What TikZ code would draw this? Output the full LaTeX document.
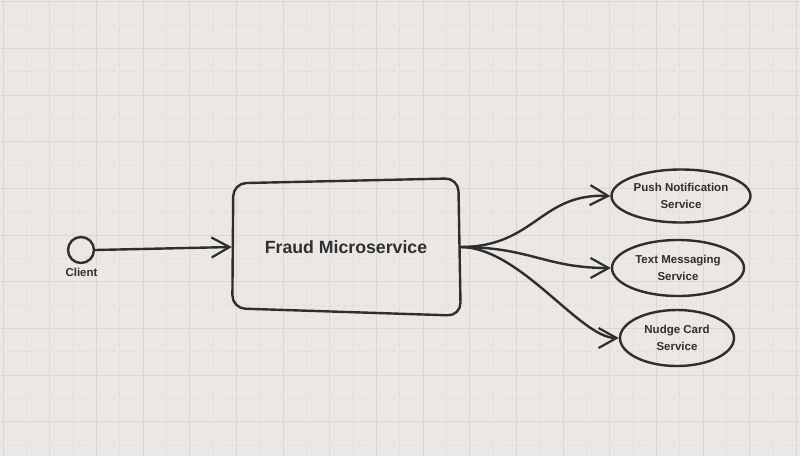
\documentclass[tikz,border=0pt]{standalone}
\usepackage{fontspec}
\setmainfont{Liberation Sans}
\usetikzlibrary{arrows.meta,shapes.geometric}
\definecolor{bg}{HTML}{EAE7E4}
\definecolor{gridsolid}{HTML}{DAD8D7}
\definecolor{griddash}{HTML}{DFDDDC}
\definecolor{ink}{HTML}{2E2E2E}
\definecolor{txt}{HTML}{303030}
\tikzset{
  inkline/.style={draw=ink, line width=2.4pt, line cap=round, line join=round},
  barb/.style={-{Straight Barb[length=18pt,width=20pt,line width=2.2pt]}},
  svc/.style={ellipse, inkline, inner sep=0pt, align=center, text=txt,
    font=\bfseries\fontsize{11.5}{16.5}\selectfont},
  conn/.style={inkline, barb},
}
\begin{document}
\begin{tikzpicture}[x=1pt,y=-1pt]
\useasboundingbox (0,0) rectangle (800,456);
\fill[bg] (0,0) rectangle (800,456);
% grid
\foreach \i in {0,...,17} {
  \draw[gridsolid, line width=1pt] ({3+46.67*\i},0) -- ({3+46.67*\i},456);
  \draw[griddash, line width=0.9pt, dash pattern=on 4pt off 3pt] ({26.3+46.67*\i},0) -- ({26.3+46.67*\i},456);
}
\foreach \j in {0,...,9} {
  \draw[gridsolid, line width=1pt] (0,{1.7+46.67*\j}) -- (800,{1.7+46.67*\j});
  \draw[griddash, line width=0.9pt, dash pattern=on 4pt off 3pt] (0,{25+46.67*\j}) -- (800,{25+46.67*\j});
}
% client
\node[circle, inkline, minimum size=26pt, inner sep=0pt] (client) at (81,250) {};
\node[text=txt, font=\bfseries\fontsize{11.5}{14}\selectfont] (clientlbl) at (81.5,272.5) {Client};
% fraud microservice
\draw[inkline, rounded corners=13pt] (233.3,183.3) -- (458.3,178.3) -- (460.7,315.7) -- (232.3,308.3) -- cycle;
\node[minimum width=228pt, minimum height=132pt, inner sep=0pt, text=txt,
  font=\bfseries\fontsize{17.7}{22}\selectfont] (fraud) at (346,247) {Fraud Microservice};
% services
\node[svc, minimum width=139pt, minimum height=53pt] (push) at (681,196) {Push Notification\\Service};
\node[svc, minimum width=132pt, minimum height=56pt] (text) at (678,268) {Text Messaging\\Service};
\node[svc, minimum width=114pt, minimum height=56pt] (nudge) at (677,338) {Nudge Card\\Service};
% connectors
\draw[conn] (client.east) -- (fraud.west);
\draw[conn] (fraud.east) .. controls (535,247) and (540,193) .. (push.west);
\draw[conn] (fraud.east) .. controls (530,247) and (545,268) .. (text.west);
\draw[conn] (fraud.east) .. controls (520,247) and (580,338) .. (nudge.west);
\end{tikzpicture}
\end{document}
